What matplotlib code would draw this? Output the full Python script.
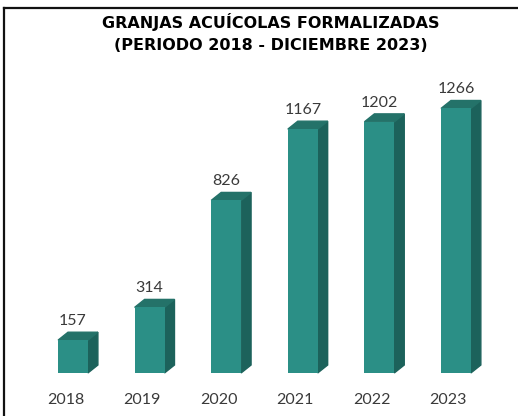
import matplotlib.pyplot as plt
from matplotlib.patches import Polygon
from matplotlib.lines import Line2D

years = ["2018", "2019", "2020", "2021", "2022", "2023"]
granjas = [157, 314, 826, 1167, 1202, 1266]

FRONT = "#2b8f86"
SIDE = "#1c625b"
TOP = "#247269"

fig = plt.figure(figsize=(5.18, 4.16), dpi=100)
ax = fig.add_axes([0, 0, 1, 1])
ax.set_xlim(-0.953, 5.81)
ax.set_ylim(-206, 1785)
ax.axis("off")

width = 0.39
dx = 0.13   # depth of the box, x direction
dy = 38     # depth of the box, y direction

xs = list(range(len(years)))
ax.bar(xs, granjas, width=width, color=FRONT, zorder=2)

for x, v in zip(xs, granjas):
    left, right = x - width / 2, x + width / 2
    side = Polygon([(right, 0), (right + dx, dy), (right + dx, v + dy), (right, v)],
                   closed=True, color=SIDE, zorder=1)
    top = Polygon([(left, v), (left + dx, v + dy), (right + dx, v + dy), (right, v)],
                  closed=True, color=TOP, zorder=1)
    ax.add_patch(side)
    ax.add_patch(top)
    ax.annotate(str(v), (x, v + dy), xytext=(0, 3), textcoords="offset points",
                ha="center", va="bottom", fontsize=11.5, color="#3a3a3a",
                family="Lato")
    ax.text(x - 0.1, -130, years[x], ha="center", va="center",
            fontsize=11.5, color="#3a3a3a", family="Lato")

fig.text(0.522, 0.946, "GRANJAS ACUÍCOLAS FORMALIZADAS", ha="center", va="center",
         fontsize=11.5, fontweight="bold", color="#000000")
fig.text(0.522, 0.891, "(PERIODO 2018 - DICIEMBRE 2023)", ha="center", va="center",
         fontsize=11.5, fontweight="bold", color="#000000")

# frame on the left and top edges
fig.add_artist(Line2D([4 / 518, 4 / 518], [0, 1 - 8 / 416], color="#111111", lw=1.6))
fig.add_artist(Line2D([4 / 518, 1], [1 - 8 / 416, 1 - 8 / 416], color="#111111", lw=1.6))

fig.savefig("out.png", dpi=100)
